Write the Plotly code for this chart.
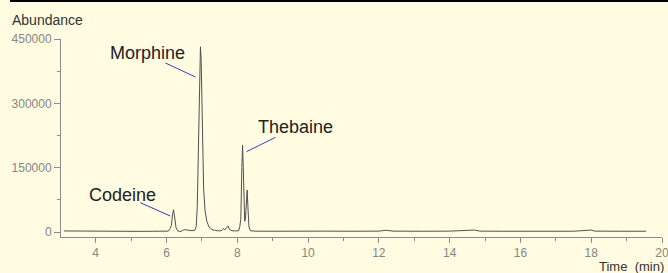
import plotly.graph_objects as go

# Chromatogram data
time_min = [3.10, 3.40, 3.70, 4.00, 4.40, 4.80, 5.20, 5.60, 5.90, 6.05, 6.10, 6.14, 6.17,
            6.20, 6.23, 6.27, 6.32, 6.38, 6.45, 6.50, 6.55, 6.62, 6.72, 6.80, 6.84, 6.87,
            6.90, 6.93, 6.96, 6.98, 7.00, 7.02, 7.05, 7.09, 7.14, 7.20, 7.28, 7.38, 7.50,
            7.57, 7.61, 7.65, 7.70, 7.74, 7.78, 7.85, 7.95, 8.04, 8.07, 8.10, 8.13, 8.15,
            8.17, 8.19, 8.21, 8.23, 8.26, 8.28, 8.30, 8.33, 8.37, 8.50, 8.80, 9.20, 9.80,
            10.50, 11.20, 12.00, 12.20, 12.40, 13.20, 14.00, 14.70, 14.85, 15.50, 16.50,
            17.50, 18.00, 18.10, 18.80, 19.55]
abundance = [2500, 2200, 1800, 1500, 1800, 1600, 1500, 1700, 1600, 2000, 8000, 15000, 40000,
             52000, 35000, 10000, 2500, 1000, 3000, 5500, 5000, 3500, 3000, 4000, 12000, 60000,
             200000, 330000, 432000, 400000, 300000, 190000, 100000, 50000, 25000, 12000, 6000, 3500, 2500,
             4000, 8000, 5000, 9000, 14000, 6000, 3000, 2500, 3000, 12000, 30000, 150000, 203000,
             150000, 60000, 25000, 30000, 85000, 98000, 60000, 12000, 3000, 2000, 1800, 2200, 1800,
             2000, 1800, 2000, 4000, 2000, 1800, 2000, 4500, 2000, 1800, 2000,
             1800, 4500, 2000, 1800, 1800]

# Peak labels
peak_names = ["Morphine", "Codeine", "Thebaine"]
label_x = [5.45, 4.77, 9.65]
label_y = [417000, 86000, 244000]
leader_x0 = [5.97, 5.26, 9.08]
leader_y0 = [394000, 68300, 220800]
leader_x1 = [6.82, 6.11, 8.26]
leader_y1 = [361400, 37300, 187200]

x_ticks = [4, 6, 8, 10, 12, 14, 16, 18, 20]
y_ticks = [0, 150000, 300000, 450000]

bg = "#FFFCE1"
axis_col = "#8c8c8c"
tick_font = dict(family="Liberation Sans, Arial, sans-serif", size=12, color="#858585")

fig = go.Figure()
fig.add_trace(go.Scatter(x=time_min, y=abundance, mode="lines",
                         line=dict(color="#505050", width=1), showlegend=False,
                         hoverinfo="skip"))

for name, tx, ty, x0, y0, x1, y1 in zip(peak_names, label_x, label_y,
                                         leader_x0, leader_y0, leader_x1, leader_y1):
    fig.add_shape(type="line", xref="x", yref="y", x0=x0, y0=y0, x1=x1, y1=y1,
                  line=dict(color="#3a3ac0", width=1))
    fig.add_annotation(x=tx, y=ty, xref="x", yref="y", text=name, showarrow=False,
                       font=dict(family="Liberation Sans, Arial, sans-serif", size=18, color="#222222"))

# axis titles
fig.add_annotation(xref="paper", yref="paper", x=(10 - 61) / 601, y=(237 - 20) / 198,
                   xanchor="left", yanchor="middle", text="Abundance", showarrow=False,
                   font=dict(family="Liberation Sans, Arial, sans-serif", size=14, color="#333333"))
fig.add_annotation(xref="paper", yref="paper", x=(597 - 61) / 601, y=(237 - 266) / 198,
                   xanchor="left", yanchor="middle", text="Time  (min)", showarrow=False,
                   font=dict(family="Liberation Sans, Arial, sans-serif", size=13, color="#333333"))

# top border line
fig.add_shape(type="line", xref="paper", yref="paper", x0=(10 - 61) / 601, x1=(668 - 61) / 601,
              y0=(237 - 1) / 198, y1=(237 - 1) / 198, line=dict(color="#000000", width=2))

fig.update_xaxes(range=[3.02, 20], tickvals=x_ticks, ticktext=[str(v) for v in x_ticks],
                 showgrid=False, zeroline=False, showline=True, linecolor=axis_col, linewidth=1,
                 ticks="outside", ticklen=5, tickcolor=axis_col, tickwidth=1, tickfont=tick_font,
                 ticklabeloverflow="allow", automargin=False,
                 minor=dict(dtick=1, tick0=0, ticks="outside", ticklen=3, tickcolor=axis_col, showgrid=False))
fig.update_yaxes(range=[-11660, 450000], tickvals=y_ticks, ticktext=[str(v) for v in y_ticks],
                 showgrid=False, zeroline=False, showline=True, linecolor=axis_col, linewidth=1,
                 ticks="outside", ticklen=6, tickcolor=axis_col, tickwidth=1, tickfont=tick_font,
                 automargin=False,
                 minor=dict(dtick=75000, tick0=0, ticks="outside", ticklen=3, tickcolor=axis_col, showgrid=False))

fig.update_layout(width=668, height=273, margin=dict(l=61, r=6, t=39, b=36),
                  paper_bgcolor=bg, plot_bgcolor=bg, showlegend=False)

fig.write_html("out.html", config={"displayModeBar": False},
               post_script="document.body.style.margin='0px';document.body.style.overflow='hidden';"
                           "document.body.style.background='" + bg + "';")
